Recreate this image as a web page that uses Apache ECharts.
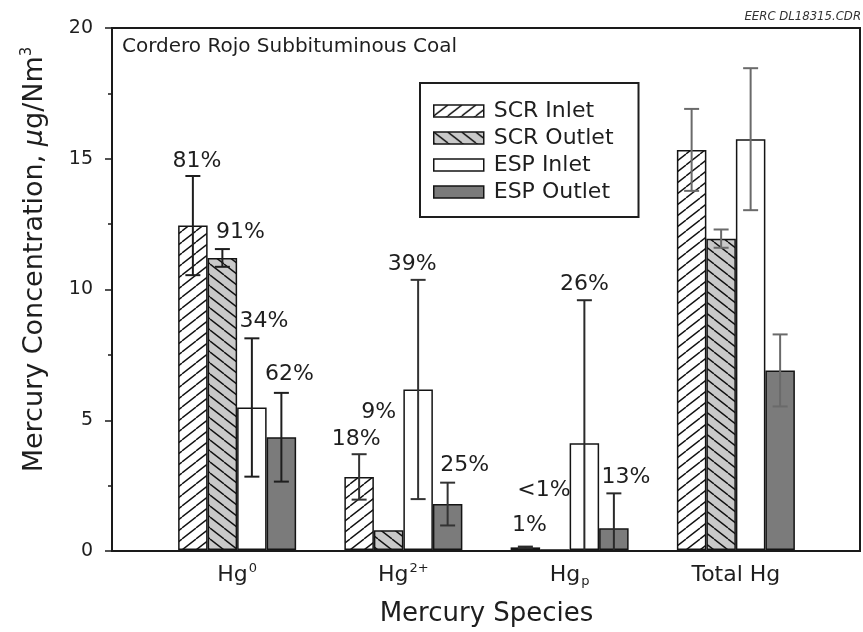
<!DOCTYPE html>
<html><head><meta charset="utf-8">
<script src="https://cdn.jsdelivr.net/npm/echarts@6/dist/echarts.min.js"></script>
<style>html,body{margin:0;padding:0;background:#fff}#c{width:863px;height:632px}</style>
</head><body><div id="c"></div>
<script>
// ---------------- data ----------------
const categories = ['Hg0', 'Hg2+', 'Hgp', 'Total Hg'];
const seriesNames = ['SCR Inlet', 'SCR Outlet', 'ESP Inlet', 'ESP Outlet'];
const scrInlet  = [12.43, 2.80, 0.10, 15.33];
const scrOutlet = [11.19, 0.76, 0.00, 11.93];
const espInlet  = [5.46, 6.15, 4.09, 15.74];
const espOutlet = [4.32, 1.76, 0.83, 6.88];
const scrInletErr  = [1.90, 0.87, 0.03, 1.57];
const scrOutletErr = [0.34, 0.00, 0.00, 0.35];
const espInletErr  = [2.65, 4.20, 5.48, 2.72];
const espOutletErr = [1.70, 0.82, 1.34, 1.38];
const scrInletPct  = ['81%', '18%', '1%', ''];
const scrOutletPct = ['91%', '9%', '<1%', ''];
const espInletPct  = ['34%', '39%', '26%', ''];
const espOutletPct = ['62%', '25%', '13%', ''];
const yTicks = [0, 5, 10, 15, 20];
const titleText = 'Cordero Rojo Subbituminous Coal';
const fileTag = 'EERC DL18315.CDR';

// ---------------- styling ----------------
const FONT = '"DejaVu Sans", "Liberation Sans", Arial, sans-serif';
const INK = '#1e1e1e';
const BAR_W = 29.5;
// label nudges in px relative to top of error bar (styling only)
const labelNudge = [
  [[4, -15], [-3, -15], [4, -21], [0, 0]],
  [[18, -17], [-10, -118], [-11, -60], [0, 0]],
  [[12, -17], [-6, -16], [0, -16], [0, 0]],
  [[8, -19], [17, -17], [12, -16], [0, 0]]
];
const errColor = ['#1e1e1e', '#333333', '#2a2a2a', '#6a6a6a'];

function hatch(dir, bg) {
  const w = 14, h = 11;
  const c = document.createElement('canvas');
  c.width = w; c.height = h;
  const g = c.getContext('2d');
  g.fillStyle = bg; g.fillRect(0, 0, w, h);
  g.strokeStyle = '#111'; g.lineWidth = 1.4;
  for (let k = -1; k <= 1; k++) {
    g.beginPath();
    if (dir > 0) { g.moveTo(k * w, h); g.lineTo((k + 1) * w, 0); }
    else { g.moveTo(k * w, 0); g.lineTo((k + 1) * w, h); }
    g.stroke();
  }
  return { image: c, repeat: 'repeat' };
}
const fills = [hatch(1, '#ffffff'), hatch(-1, '#c9c9c9'), '#ffffff', '#7b7b7b'];

const values = [scrInlet, scrOutlet, espInlet, espOutlet];
const errs = [scrInletErr, scrOutletErr, espInletErr, espOutletErr];
const pcts = [scrInletPct, scrOutletPct, espInletPct, espOutletPct];

const catLabel = {
  'Hg0': '{n|Hg}{sup|0}',
  'Hg2+': '{n|Hg}{sup|2+}',
  'Hgp': '{n|Hg}{sub|p}',
  'Total Hg': '{n|Total Hg}'
};

function errRenderer(s) {
  return function (params, api) {
    const cat = api.value(0), v = api.value(1), e = api.value(2);
    const cx = api.coord([cat, 0])[0] + (s - 1.5) * BAR_W;
    const yTop = api.coord([cat, v + e])[1];
    const yBot = api.coord([cat, Math.max(v - e, 0)])[1];
    const col = errColor[cat];
    const ch = [];
    if (e > 0) {
      ch.push({ type: 'line', shape: { x1: cx, y1: yTop, x2: cx, y2: yBot }, style: { stroke: col, lineWidth: 2 } });
      ch.push({ type: 'line', shape: { x1: cx - 7.5, y1: yTop, x2: cx + 7.5, y2: yTop }, style: { stroke: col, lineWidth: 2 } });
      if (v - e > 0) ch.push({ type: 'line', shape: { x1: cx - 7.5, y1: yBot, x2: cx + 7.5, y2: yBot }, style: { stroke: col, lineWidth: 2 } });
    }
    const txt = pcts[s][cat];
    if (txt) {
      const nd = labelNudge[s][cat];
      ch.push({ type: 'text', z2: 10, style: { text: txt, x: cx + nd[0], y: yTop + nd[1], align: 'center', verticalAlign: 'middle',
        font: '22px ' + FONT, fill: INK } });
    }
    return { type: 'group', children: ch };
  };
}

const series = [];
seriesNames.forEach((name, s) => {
  series.push({
    name, type: 'bar', xAxisIndex: 1, yAxisIndex: 1,
    barWidth: BAR_W, barGap: '0%',
    data: values[s],
    itemStyle: { color: fills[s], borderColor: '#141414', borderWidth: 1.5 },
    emphasis: { disabled: true },
    z: 2
  });
});
seriesNames.forEach((name, s) => {
  series.push({
    type: 'custom', xAxisIndex: 1, yAxisIndex: 1, z: 5,
    renderItem: errRenderer(s),
    data: categories.map((c, i) => [i, values[s][i], errs[s][i]]),
    silent: true
  });
});

const chart = echarts.init(document.getElementById('c'), null, { renderer: 'canvas' });
chart.setOption({
  animation: false,
  backgroundColor: '#ffffff',
  textStyle: { fontFamily: FONT },
  title: {
    text: titleText, left: 122, top: 37, padding: 0,
    textStyle: { fontSize: 20, fontWeight: 'normal', color: INK, fontFamily: FONT }
  },
  legend: {
    orient: 'vertical', left: 420, top: 83,
    data: seriesNames,
    icon: 'rect', itemWidth: 50, itemHeight: 12, itemGap: 5,
    padding: [17, 25, 14, 13],
    borderColor: '#1e1e1e', borderWidth: 2,
    itemStyle: { borderColor: '#141414', borderWidth: 1.5 },
    textStyle: { fontSize: 22, lineHeight: 22, color: INK, fontFamily: FONT, padding: [0, 0, 0, 5] },
    selectedMode: false
  },
  graphic: [{
    type: 'text', right: 2, top: 10,
    style: { text: fileTag, font: 'italic 13px "DejaVu Sans Condensed", "DejaVu Sans", sans-serif', fill: '#333' }
  }],
  grid: [
    { left: 112, right: 3, top: 28, bottom: 81, show: true, borderColor: '#1a1a1a', borderWidth: 2, backgroundColor: 'transparent' },
    { left: 154, right: 44, top: 28, bottom: 81 }
  ],
  xAxis: [
    { type: 'category', gridIndex: 0, data: [''], show: false },
    {
      type: 'category', gridIndex: 1, data: categories,
      axisLine: { show: false }, axisTick: { show: false },
      axisLabel: {
        margin: 12, color: INK, interval: 0,
        formatter: v => catLabel[v],
        rich: {
          n: { fontSize: 22, fontFamily: FONT, color: INK, lineHeight: 26 },
          sup: { fontSize: 13, fontFamily: FONT, color: INK, verticalAlign: 'top', lineHeight: 13, padding: [0, 0, 0, 1] },
          sub: { fontSize: 13, fontFamily: FONT, color: INK, verticalAlign: 'bottom', lineHeight: 13, padding: [10, 0, 0, 1] }
        }
      },
      name: 'Mercury Species', nameLocation: 'middle', nameGap: 51,
      nameTextStyle: { fontSize: 26, color: INK, fontFamily: FONT }
    }
  ],
  yAxis: [
    {
      type: 'value', gridIndex: 0, min: 0, max: 20, interval: 5,
      axisLine: { show: true, lineStyle: { color: '#1a1a1a', width: 2 } },
      axisTick: { show: true, length: 7, lineStyle: { color: '#1a1a1a', width: 1.5 } },
      minorTick: { show: true, splitNumber: 2, length: 4, lineStyle: { color: '#1a1a1a', width: 1.5 } },
      splitLine: { show: false },
      axisLabel: { fontSize: 19, color: INK, margin: 19, fontFamily: FONT,
        customValues: yTicks },
      name: '{a|Mercury Concentration, }{m|μ}{a|g/Nm}{s|3}',
      nameLocation: 'middle', nameGap: 62, nameRotate: 90,
      nameTextStyle: {
        padding: [0, 0, 0, 60],
        rich: {
          a: { fontSize: 27, fontFamily: FONT, color: INK, lineHeight: 30 },
          m: { fontSize: 27, fontFamily: FONT, fontStyle: 'italic', color: INK, lineHeight: 30 },
          s: { fontSize: 15, fontFamily: FONT, color: INK, verticalAlign: 'top', lineHeight: 15 }
        }
      }
    },
    { type: 'value', gridIndex: 1, min: 0, max: 20, interval: 5, show: false }
  ],
  series
});
</script>
</body></html>
